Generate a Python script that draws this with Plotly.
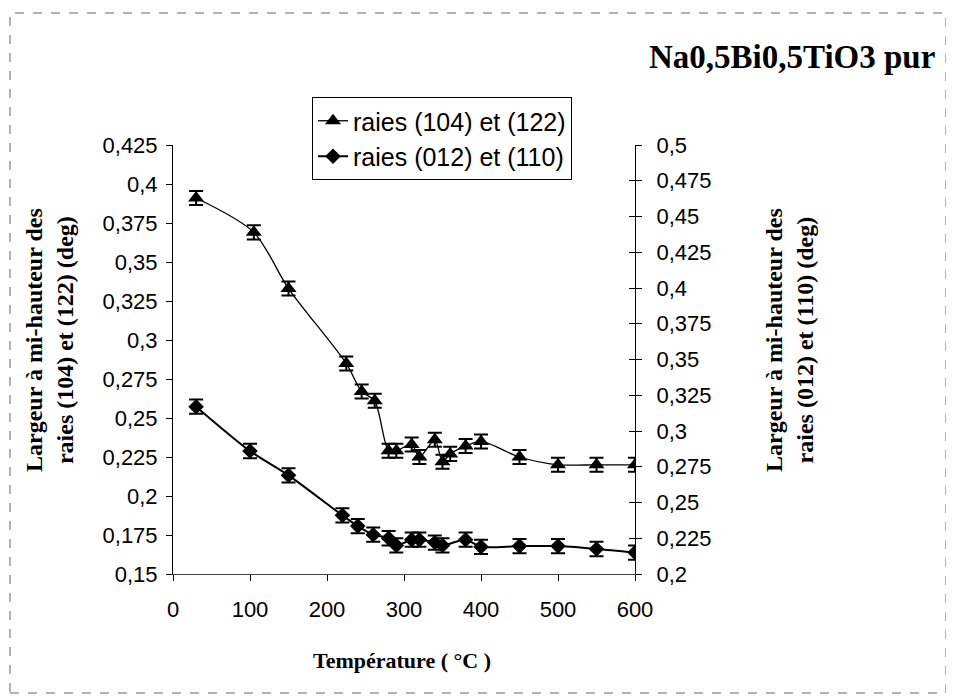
import plotly.graph_objects as go

# ---- data ----
temp_a = [30, 105, 150, 225, 245, 262, 280, 290, 310, 320, 340, 350, 360, 380, 400, 450, 500, 550, 600]
larg_a = [0.391, 0.369, 0.333, 0.285, 0.267, 0.261, 0.229, 0.229, 0.233, 0.225, 0.236, 0.222, 0.227,
          0.232, 0.235, 0.225, 0.220, 0.220, 0.220]
err_a = 0.0045

temp_b = [30, 100, 150, 220, 240, 260, 280, 290, 310, 320, 340, 350, 380, 400, 450, 500, 550, 600]
larg_b = [0.317, 0.286, 0.269, 0.241, 0.2335, 0.2275, 0.225, 0.220, 0.224, 0.224, 0.222, 0.220,
          0.224, 0.219, 0.2195, 0.2195, 0.2175, 0.215]
err_b = 0.005

name_a = "raies (104) et (122)"
name_b = "raies (012) et (110)"

x_ticks = [0, 100, 200, 300, 400, 500, 600]
left_ticks = [0.15, 0.175, 0.2, 0.225, 0.25, 0.275, 0.3, 0.325, 0.35, 0.375, 0.4, 0.425]
left_labels = ["0,15", "0,175", "0,2", "0,225", "0,25", "0,275", "0,3", "0,325", "0,35", "0,375", "0,4", "0,425"]
right_ticks = [0.2, 0.225, 0.25, 0.275, 0.3, 0.325, 0.35, 0.375, 0.4, 0.425, 0.45, 0.475, 0.5]
right_labels = ["0,2", "0,225", "0,25", "0,275", "0,3", "0,325", "0,35", "0,375", "0,4", "0,425", "0,45", "0,475", "0,5"]

title_text = "Na0,5Bi0,5TiO3 pur"
x_title = "Température ( °C )"
y_title_left = "Largeur à mi-hauteur des<br>raies (104) et (122) (deg)"
y_title_right = "Largeur à mi-hauteur des<br>raies (012) et (110) (deg)"

# ---- figure ----
SANS = "Liberation Sans, Arial, sans-serif"
SERIF = "Liberation Serif, Times New Roman, serif"

OFF = 8  # page body margin of the browser
L, T = 173 - OFF, 145 - OFF
R = 954 - (635 - OFF)
B = 699 - (574 - OFF)
W, H = 954 - L - R, 699 - T - B


def px(xs):
    return (xs - OFF - L) / W


def py(ys):
    return (699 - B - (ys - OFF)) / H


fig = go.Figure()
fig.add_trace(go.Scatter(
    x=temp_a, y=larg_a, name=name_a, yaxis="y", mode="lines+markers",
    line=dict(color="black", width=1.3, shape="spline", smoothing=0.8),
    marker=dict(symbol="triangle-up", size=14, color="black"),
    error_y=dict(type="constant", value=err_a, color="black", thickness=2, width=7),
))
fig.add_trace(go.Scatter(
    x=temp_b, y=larg_b, name=name_b, yaxis="y2", mode="lines+markers",
    line=dict(color="black", width=2, shape="spline", smoothing=0.8),
    marker=dict(symbol="diamond", size=12, color="black"),
    error_y=dict(type="constant", value=err_b, color="black", thickness=2, width=7),
))
fig.add_trace(go.Scatter(x=[None], y=[None], yaxis="y3", showlegend=False, hoverinfo="skip"))

fig.update_layout(
    width=954, height=699,
    margin=dict(l=L, r=R, t=T, b=B),
    paper_bgcolor="white", plot_bgcolor="white",
    font=dict(family=SANS, size=22, color="black"),
    showlegend=True,
    legend=dict(
        x=px(312), y=py(97), xanchor="left", yanchor="top",
        bordercolor="black", borderwidth=1, bgcolor="white",
        font=dict(family=SANS, size=25, color="black"),
        tracegroupgap=0,
    ),
    xaxis=dict(
        range=[0, 600], tickvals=x_ticks, ticktext=[str(v) for v in x_ticks],
        showgrid=False, zeroline=False, showline=True, linecolor="#444", linewidth=1,
        ticks="outside", ticklen=6, tickcolor="black", ticklabelstandoff=10,
        tickfont=dict(family=SANS, size=22),
    ),
    yaxis=dict(
        range=[0.15, 0.425], tickvals=left_ticks, ticktext=left_labels,
        showgrid=False, zeroline=False, showline=True, linecolor="black", linewidth=1,
        ticks="outside", ticklen=6, tickcolor="black", ticklabelstandoff=4,
        tickfont=dict(family=SANS, size=22),
    ),
    yaxis2=dict(
        range=[0.2, 0.5], tickvals=right_ticks, ticktext=right_labels,
        overlaying="y", side="right", anchor="x",
        showgrid=False, zeroline=False, showline=True, linecolor="black", linewidth=1,
        ticks="outside", ticklen=6, tickcolor="black", ticklabelstandoff=10,
        tickfont=dict(family=SANS, size=22),
    ),
    yaxis3=dict(
        range=[0.2, 0.5], tickvals=right_ticks, overlaying="y", side="right", anchor="x",
        showgrid=False, zeroline=False, showline=False, showticklabels=False,
        ticks="inside", ticklen=6, tickcolor="black",
    ),
    annotations=[
        dict(text=title_text, xref="paper", yref="paper", x=px(937), y=py(57),
             xanchor="right", yanchor="middle", showarrow=False,
             font=dict(family=SERIF, size=33, weight="bold", color="black")),
        dict(text=x_title, xref="paper", yref="paper", x=px(402), y=py(660),
             xanchor="center", yanchor="middle", showarrow=False,
             font=dict(family=SERIF, size=22, weight="bold", color="black")),
        dict(text=y_title_left, xref="paper", yref="paper", x=px(49), y=py(340),
             xanchor="center", yanchor="middle", showarrow=False, textangle=-90,
             font=dict(family=SERIF, size=24, weight="bold", color="black")),
        dict(text=y_title_right, xref="paper", yref="paper", x=px(789), y=py(340),
             xanchor="center", yanchor="middle", showarrow=False, textangle=-90,
             font=dict(family=SERIF, size=24, weight="bold", color="black")),
    ],
    shapes=[dict(
        type="rect", xref="paper", yref="paper",
        x0=px(10), x1=px(946), y0=py(693), y1=py(13),
        line=dict(color="#666", width=1, dash="dash"),
    )],
)

fig.write_html("out.html")
